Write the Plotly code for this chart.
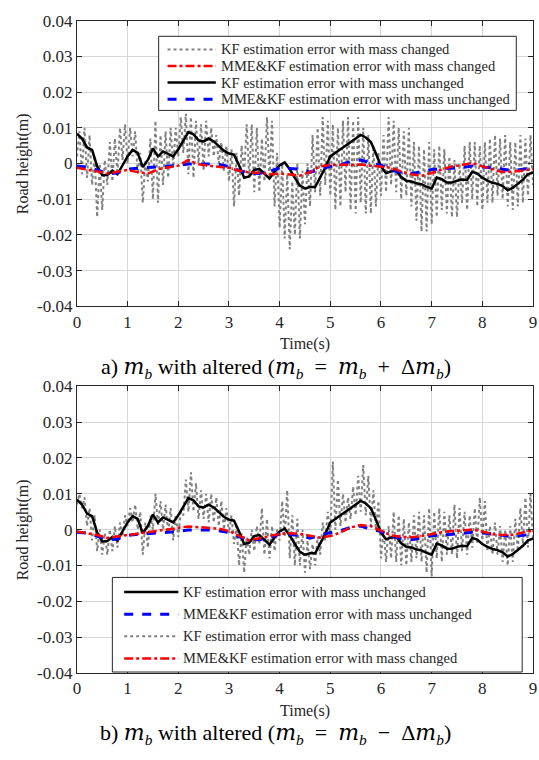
import plotly.graph_objects as go

# ---------------------------------------------------------------- data (values in mm)
# KF estimation error with mass unchanged (same run in both panels), dt = 0.1 s
t_kf = [round(0.1 * i, 1) for i in range(91)]
kf_unchanged = [
    8.4, 7.0, 4.5, 3.8, -0.8, -3.3, -3.2, -2.0, -3.0, -0.6,
    2.0, 3.8, 3.0, -1.0, 1.0, 4.2, 2.0, 3.4, 2.8, 2.0,
    4.0, 6.5, 8.8, 8.2, 6.5, 6.2, 7.0, 6.2, 5.0, 3.6,
    2.8, 2.5, -0.5, -4.0, -3.6, -1.8, -1.5, -2.8, -4.2, -2.2,
    -0.5, 0.3, -1.6, -4.0, -6.2, -7.0, -6.6, -6.6, -3.9, -1.2,
    2.0, 2.9, 4.0, 5.0, 6.0, 7.0, 8.0, 7.3, 6.0, 2.8,
    -0.8, -2.7, -2.2, -2.0, -3.8, -4.8, -5.0, -5.5, -5.8, -6.5,
    -7.0, -3.9, -4.4, -5.3, -5.3, -4.8, -4.5, -4.6, -2.3, -2.8,
    -4.0, -4.8, -5.4, -5.7, -6.3, -7.5, -6.8, -5.7, -4.5, -3.0,
    -2.5,
]

# MME&KF estimation errors, dt = 0.2 s
t_mme = [round(0.2 * i, 1) for i in range(46)]
mme_unchanged = [
    -0.7, -1.0, -1.8, -2.9, -2.6, -1.6, -1.3, -1.1, -1.0, -0.8,
    -0.5, -0.1, 0.0, -0.1, -0.3, -0.8, -2.0, -2.7, -2.8, -2.2,
    -1.2, -1.3, -1.6, -2.4, -1.5, -0.8, -0.3, 0.6, 1.0, 0.1,
    -0.5, -1.8, -2.5, -2.8, -2.3, -1.7, -1.5, -1.4, -1.1, -0.7,
    -0.9, -1.2, -1.6, -2.0, -1.6, -1.2,
]
mme_changed_plus = [
    -1.2, -1.6, -2.2, -2.8, -2.4, -1.8, -2.4, -2.8, -1.6, -1.2,
    -0.6, 1.0, -0.2, -0.6, -0.9, -1.2, -2.0, -2.5, -2.6, -3.0,
    -2.8, -3.0, -3.4, -2.4, -0.8, -0.4, -0.3, -0.2, -0.3, -0.6,
    -1.0, -1.2, -2.2, -3.0, -3.5, -2.6, -1.6, -0.8, -0.4, 0.2,
    -0.8, -1.5, -2.4, -2.3, -2.0, -1.6,
]
mme_changed_minus = [
    -0.5, -0.9, -1.5, -2.3, -1.9, -1.5, -1.2, -0.8, -0.5, -0.1,
    0.4, 0.9, 0.7, 0.5, 0.3, -0.4, -1.8, -3.0, -2.4, -1.8,
    -1.2, -1.0, -1.2, -1.7, -2.2, -1.8, -0.8, 0.6, 1.3, 1.0,
    -0.3, -1.6, -2.0, -2.1, -1.8, -1.2, -0.7, -0.4, -0.2, 0.0,
    -0.5, -1.3, -1.5, -1.4, -0.8, -0.3,
]

# KF estimation error with mass changed: troughs at t = 0, 0.1, ... 9.0
# and peaks half way between them (t = 0.05, 0.15, ... 8.95)
kf_plus_lo = [
    2, -3, -4, -6, -15, -13, -6, -5, -3, 1,
    0, 2, -3, -11, -5, -10, -11, -6, -4, -1,
    2, 3, -3, -4, 0, -2, 2, 2, 0, -2,
    -5, -12, -9, -3, -4, -8, -8, -5, -4, -12,
    -18, -21, -24, -20, -21, -17, -12, -8, -9, -6,
    -9, -13, -12, -8, -13, -14, -11, -14, -14, -12,
    -9, -8, -6, -8, -10, -9, -12, -16, -19, -19,
    -17, -15, -13, -14, -15, -15, -11, -13, -10, -12,
    -13, -11, -11, -9, -10, -12, -13, -12, -11, -9,
    -6,
]
kf_plus_hi = [
    9, 10, 8, 2, 0, 1, 6, 7, 10, 11,
    10, 9, 3, 1, 7, 12, 8, 9, 10, 10,
    13, 14, 13, 12, 11, 12, 10, 8, 6, 5,
    4, 3, 5, 11, 11, 10, 7, 13, 12, 3,
    0, -3, -5, 0, -2, 0, 8, 10, 13, 12,
    11, 10, 12, 13, 12, 13, 10, 8, 5, 3,
    8, 13, 12, 10, 9, 10, 6, 5, 4, 6,
    4, 5, 4, 2, 1, 0, 5, 6, 6, 5,
    6, 7, 8, 7, 8, 6, 6, 8, 7, 8,
]
kf_minus_lo = [
    7, 6, 1, -3, -6, -7, -7, -6, -5, -2,
    1, 2, 0, -7, -5, 0, 1, 0, -1, -3,
    -2, 4, 5, 5, 3, 3, 2, 2, 1, 0,
    -1, -4, -10, -12, -7, -6, -4, -7, -8, -6,
    -3, -2, -8, -10, -10, -12, -11, -10, -7, -3,
    -2, 0, 1, 2, 3, 4, 5, 4, 1, 0,
    -8, -9, -8, -9, -10, -10, -9, -8, -9, -12,
    -13, -8, -9, -7, -7, -8, -6, -7, -5, -4,
    -3, -6, -7, -7, -9, -10, -9, -6, -4, -5,
    -3,
]
kf_minus_hi = [
    10, 9, 6, 4, 0, -1, 0, 1, 2, 4,
    6, 7, 5, 2, 4, 10, 8, 7, 6, 4,
    5, 14, 16, 13, 11, 10, 10, 9, 8, 6,
    4, 1, -1, -2, 0, 1, 6, 3, 1, 0,
    8, 11, 4, 3, 0, -3, -4, -2, 2, 5,
    19, 14, 10, 9, 12, 15, 18, 15, 11, 8,
    0, 1, 5, 4, 3, 2, 4, 5, 4, 6,
    5, 6, 5, 4, 7, 6, 5, 4, 6, 9,
    8, 1, 2, 1, 0, 1, 3, 6, 9, 10,
]

y_ticks = [0.04, 0.03, 0.02, 0.01, 0, -0.01, -0.02, -0.03, -0.04]
y_tick_text = ["0.04", "0.03", "0.02", "0.01", "0", "-0.01", "-0.02", "-0.03", "-0.04"]
x_ticks = list(range(10))

labels = {
    "kf_ch": "KF estimation error with mass changed",
    "mme_ch": "MME&KF estimation error with mass changed",
    "kf_un": "KF estimation error with mass unchanged",
    "mme_un": "MME&KF estimation error with mass unchanged",
}
legend_order_top = ["kf_ch", "mme_ch", "kf_un", "mme_un"]
legend_order_bottom = ["kf_un", "mme_un", "kf_ch", "mme_ch"]


def mm(values):
    return [v / 1000.0 for v in values]


def zigzag(lo, hi):
    """Merge trough and peak samples into one time series."""
    ts, vs = [], []
    for i, v in enumerate(lo):
        ts.append(round(0.1 * i, 2))
        vs.append(v)
        if i < len(hi):
            ts.append(round(0.1 * i + 0.05, 2))
            vs.append(hi[i])
    return ts, mm(vs)


GRAY = "#808080"
styles = {
    "kf_ch": dict(color=GRAY, width=2, dash="dot"),
    "mme_ch": dict(color="#ff0000", width=2.5, dash="dashdot"),
    "kf_un": dict(color="#000000", width=2.5, dash="solid"),
    "mme_un": dict(color="#0000ff", width=3, dash="dash"),
}

W, H = 539, 760
X0, X1 = 74, 537
TOP = (12, 305)
BOT = (387, 681)
SERIF = "Liberation Serif"
INK = "#262626"

fig = go.Figure()


def add_panel(xa, ya, kf_lo, kf_hi, mme_ch):
    tg, vg = zigzag(kf_lo, kf_hi)
    series = {
        "kf_ch": (tg, vg),
        "kf_un": (t_kf, mm(kf_unchanged)),
        "mme_un": (t_mme, mm(mme_unchanged)),
        "mme_ch": (t_mme, mm(mme_ch)),
    }
    for key in ["kf_ch", "kf_un", "mme_un", "mme_ch"]:
        x, y = series[key]
        fig.add_trace(go.Scatter(
            x=x, y=y, mode="lines", name=labels[key], line=styles[key],
            xaxis=xa, yaxis=ya, showlegend=False,
        ))


add_panel("x", "y", kf_plus_lo, kf_plus_hi, mme_changed_plus)
add_panel("x2", "y2", kf_minus_lo, kf_minus_hi, mme_changed_minus)

tick_font = dict(family=SERIF, size=17, color=INK)
axis_common = dict(
    showline=True, linecolor=INK, linewidth=1.2, mirror="ticks",
    ticks="inside", ticklen=5, tickcolor=INK,
    showgrid=True, gridcolor="#d6d6d6", gridwidth=1,
    zeroline=False, tickfont=tick_font, ticklabeloverflow="allow",
)


def px_x(p):
    return p / W


def px_y(p):
    return 1 - p / H


xdom = [px_x(X0), px_x(X1)]

fig.update_layout(
    width=W, height=H,
    margin=dict(l=0, r=0, t=0, b=0),
    paper_bgcolor="white", plot_bgcolor="white",
    font=dict(family=SERIF, color=INK),
    showlegend=False,
    xaxis=dict(domain=xdom, range=[0, 9], tickvals=x_ticks, anchor="y", **axis_common),
    yaxis=dict(domain=[px_y(TOP[1]), px_y(TOP[0])], range=[-0.04, 0.04], tickvals=y_ticks,
               ticktext=y_tick_text, anchor="x", **axis_common),
    xaxis2=dict(domain=xdom, range=[0, 9], tickvals=x_ticks, anchor="y2", **axis_common),
    yaxis2=dict(domain=[px_y(BOT[1]), px_y(BOT[0])], range=[-0.04, 0.04], tickvals=y_ticks,
                ticktext=y_tick_text, anchor="x2", **axis_common),
)

# ---------------------------------------------------------------- legends (key boxes)
shapes, annotations = [], []
legend_font = dict(family=SERIF, size=14.5, color=INK)


def legend_box(box, row0, row_step, line_x, text_x, order):
    x0, y0, x1, y1 = box
    shapes.append(dict(type="rect", xref="paper", yref="paper",
                       x0=px_x(x0), x1=px_x(x1), y0=px_y(y1), y1=px_y(y0),
                       fillcolor="white", line=dict(color=INK, width=1), layer="above"))
    for i, key in enumerate(order):
        yy = px_y(row0 + i * row_step)
        shapes.append(dict(type="line", xref="paper", yref="paper",
                           x0=px_x(line_x[0]), x1=px_x(line_x[1]), y0=yy, y1=yy,
                           line=styles[key], layer="above"))
        annotations.append(dict(text=labels[key], font=legend_font,
                                x=px_x(text_x), y=yy, xref="paper", yref="paper",
                                showarrow=False, xanchor="left", yanchor="middle"))


legend_box((157, 28, 520, 104), 41.5, 17.0, (166, 215), 218, legend_order_top)
legend_box((110, 583, 526, 680), 598.0, 22.7, (122, 177), 180, legend_order_bottom)

# ---------------------------------------------------------------- titles and captions
title_font = dict(family=SERIF, size=16, color=INK)
cap_font = dict(family=SERIF, size=22, color="#000000")
M = "<span style='font-family:DejaVu Serif'><i>m</i></span><sub><i>b</i></sub>"
SP = "&nbsp;&nbsp;"
captions = [
    f"a) {M} with altered ({M}{SP}={SP}{M}{SP}+{SP}Δ{M})",
    f"b) {M} with altered ({M}{SP}={SP}{M}{SP}−{SP}Δ{M})",
]
for (top, bottom), cap in zip([TOP, BOT], captions):
    annotations.append(dict(
        text="Road height(m)", textangle=-90, font=title_font,
        x=px_x(19), y=px_y((top + bottom) / 2), xref="paper", yref="paper",
        showarrow=False, xanchor="center", yanchor="middle",
    ))
    annotations.append(dict(
        text="Time(s)", font=title_font,
        x=px_x((X0 + X1) / 2), y=px_y(bottom + 39), xref="paper", yref="paper",
        showarrow=False, xanchor="center", yanchor="middle",
    ))
    annotations.append(dict(
        text=cap, font=cap_font,
        x=px_x(276), y=px_y(bottom + 63), xref="paper", yref="paper",
        showarrow=False, xanchor="center", yanchor="middle",
    ))

fig.update_layout(shapes=shapes, annotations=annotations)

fig.write_html("out.html")
